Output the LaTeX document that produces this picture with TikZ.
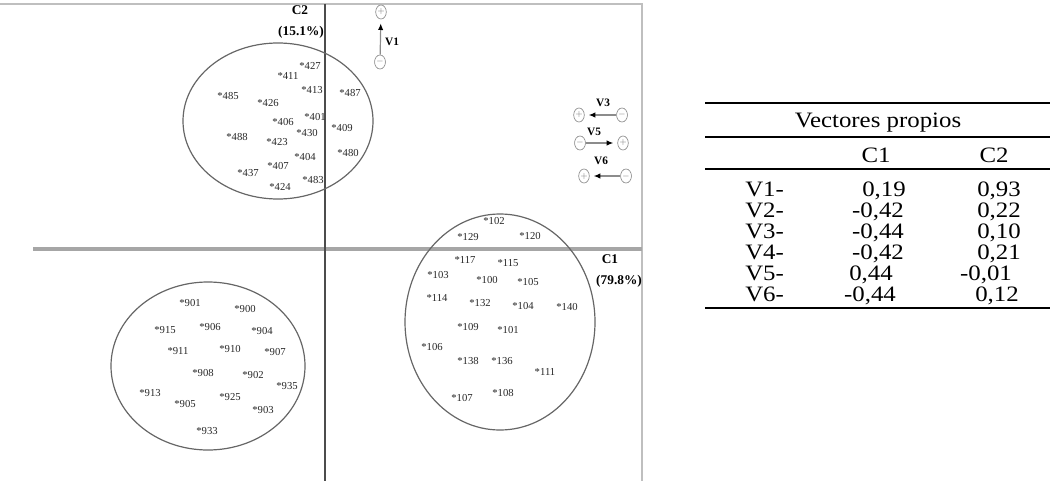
\documentclass[tikz,border=0pt]{standalone}
\usepackage{fontspec}
\setmainfont{Liberation Serif}
\newfontfamily\tabfont[FakeStretch=1.13]{Liberation Serif}
\usetikzlibrary{arrows.meta, shapes.geometric}

\begin{document}
\begin{tikzpicture}[x=0.75pt, y=-0.75pt,
      grp/.style={draw=black!60, line width=0.9pt},
      obs/.style={inner sep=0pt, text=black!85, font=\fontsize{8}{8}\selectfont},
      pole/.style={ellipse, draw=black!45, line width=0.5pt, inner sep=0pt, minimum width=7pt, minimum height=10.5pt, font=\fontsize{6}{6}\selectfont, text=black!55},
      vec/.style={draw=black!45, line width=0.9pt, -{Latex[black, length=5pt, width=4pt]}, shorten >=3pt},
      vlab/.style={inner sep=0pt, font=\bfseries\fontsize{8.5}{9}\selectfont},
      cpct/.style={inner sep=0pt, font=\bfseries\fontsize{10}{10}\selectfont},
      cell/.style={inner sep=0pt, anchor=base, font=\tabfont\fontsize{16.5}{17}\selectfont}]
  \useasboundingbox (0,0) rectangle (1052,481);

  % Frame and axes
  \draw[black!25, line width=2pt] (0,4) -- (642,4) -- (642,481);
  \draw[black!35, line width=2.4pt] (33,249) -- (642,249);
  \draw[black!70, line width=1.4pt] (325,4) -- (325,481);
  \node[cpct] (c2) at (300,10) {C2};
  \node[cpct] (c2v) at (301,32) {(15.1\%)};
  \node[cpct] (c1) at (610,259) {C1};
  \node[cpct] (c1v) at (619,281) {(79.8\%)};

  % Clusters
  \draw[grp] (278,121) ellipse [x radius=95, y radius=78];
  \draw[grp] (500,322) ellipse [x radius=95, y radius=108];
  \draw[grp] (208,366) ellipse [x radius=97, y radius=84];

  \foreach \x/\y/\n in {310/66/427, 288/76/411, 312/90/413, 350/93/487, 228/96/485,
      268/103/426, 315/117/401, 283/122/406, 342/128/409, 307/133/430, 237/137/488,
      277/142/423, 305/157/404, 348/153/480, 278/166/407, 248/173/437, 313/180/483,
      280/187/424}
    \node[obs] (p\n) at (\x,\y) {*\n};

  \foreach \x/\y/\n in {494/221/102, 468/237/129, 530/236/120, 465/260/117, 508/263/115,
      438/275/103, 487/280/100, 528/282/105, 437/298/114, 480/303/132, 523/306/104,
      567/307/140, 468/327/109, 508/330/101, 432/347/106, 468/361/138, 502/361/136,
      545/372/111, 462/398/107, 503/393/108}
    \node[obs] (p\n) at (\x,\y) {*\n};

  \foreach \x/\y/\n in {190/303/901, 245/309/900, 165/330/915, 210/327/906, 262/331/904,
      178/351/911, 230/349/910, 275/352/907, 203/373/908, 253/375/902, 287/386/935,
      150/393/913, 185/404/905, 230/397/925, 263/410/903, 207/431/933}
    \node[obs] (p\n) at (\x,\y) {*\n};

  % Vectors
  \node[pole] (v1p) at (381,12) {$+$};
  \node[pole] (v1m) at (380,62) {$-$};
  \draw[vec] (v1m) -- (v1p);
  \node[vlab] (v1) at (392,42) {V1};

  \node[pole] (v3p) at (579,115) {$+$};
  \node[pole] (v3m) at (622,115) {$-$};
  \draw[vec] (v3m) -- (v3p);
  \node[vlab] (v3) at (603,103) {V3};

  \node[pole] (v5m) at (580,143) {$-$};
  \node[pole] (v5p) at (623,143) {$+$};
  \draw[vec] (v5m) -- (v5p);
  \node[vlab] (v5) at (594,132) {V5};

  \node[pole] (v6p) at (584,176) {$+$};
  \node[pole] (v6m) at (626,176) {$-$};
  \draw[vec] (v6m) -- (v6p);
  \node[vlab] (v6) at (601,161) {V6};

  % Table
  \draw[line width=1.6pt] (705,103) -- (1050,103);
  \node[cell] (title) at (878,128) {Vectores propios};
  \draw[line width=2pt] (705,137) -- (1050,137);
  \node[cell] (h1) at (876,162) {C1};
  \node[cell] (h2) at (994,162) {C2};
  \draw[line width=2pt] (705,169) -- (1050,169);
  \foreach \a/\xa/\b/\xb [count=\i] in {{0,19}/884/{0,93}/999, {-0,42}/878/{0,22}/999,
      {-0,44}/878/{0,10}/999, {-0,42}/878/{0,21}/999, {0,44}/871/{-0,01}/986,
      {-0,44}/870/{0,12}/997} {
    \node[cell, anchor=base west] (r\i) at (745,175+21*\i) {V\i-};
    \node[cell] (a\i) at (\xa,175+21*\i) {\a};
    \node[cell] (b\i) at (\xb,175+21*\i) {\b};
  }
  \draw[line width=1.6pt] (705,308) -- (1050,308);
\end{tikzpicture}
\end{document}
